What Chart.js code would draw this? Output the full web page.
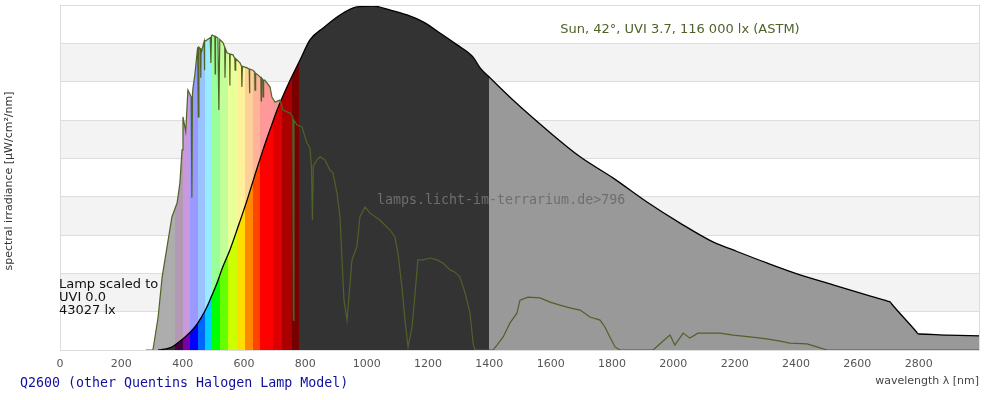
<!DOCTYPE html>
<html>
<head>
<meta charset="utf-8">
<script src="https://cdn.jsdelivr.net/npm/chart.js@4"></script>
<style>
html,body{margin:0;padding:0;background:#fff;}
#wrap{width:1000px;height:400px;position:relative;}
</style>
</head>
<body>
<div id="wrap"><canvas id="c" width="1000" height="400"></canvas></div>
<script>
// ---- data ----
const xTickLabels = [0, 200, 400, 600, 800, 1000, 1200, 1400, 1600, 1800, 2000, 2200, 2400, 2600, 2800];

const lampWl  = [320, 340, 360, 375, 390, 408, 425, 440, 460, 479, 495, 512, 530, 554, 580, 610, 635, 662, 685, 708, 740, 783, 815, 858, 913, 968, 1021, 1076, 1132, 1184, 1239, 1295, 1347, 1370, 1402, 1477, 1588, 1696, 1803, 1914, 2022, 2129, 2195, 2305, 2413, 2521, 2632, 2700, 2707, 2712, 2793, 2798, 2803, 2892, 3000];
const lampVal = [0, 0.02, 0.06, 0.13, 0.22, 0.34, 0.47, 0.60, 0.84, 1.12, 1.42, 1.75, 2.15, 2.61, 3.2, 3.91, 4.55, 5.22, 5.75, 6.26, 6.86, 7.57, 8.09, 8.40, 8.74, 8.95, 8.97, 8.87, 8.74, 8.56, 8.27, 7.96, 7.64, 7.36, 7.10, 6.52, 5.74, 5.04, 4.49, 3.86, 3.31, 2.82, 2.61, 2.27, 1.96, 1.70, 1.43, 1.27, 1.25, 1.20, 0.47, 0.42, 0.418, 0.39, 0.37];

const sunWl  = [280, 303, 320, 333, 349, 365, 382, 391, 398, 401, 410, 417, 428, 430, 432, 434, 440, 449, 451, 453, 458, 459, 460, 463, 470, 471, 472, 479, 490, 492, 494, 496, 505, 506, 507, 515, 518, 521, 532, 537, 538, 540, 545, 553, 554, 555, 564, 570, 571, 573, 587, 592, 593, 595, 610, 617, 618, 619, 629, 635, 636, 638, 646, 655, 656, 657, 661, 662, 664, 668, 685, 691, 701, 717, 727, 750, 759, 761, 763, 773, 789, 805, 815, 820, 823, 826, 838, 848, 864, 880, 890, 903, 913, 926, 936, 952, 968, 978, 995, 1011, 1043, 1076, 1092, 1102, 1115, 1125, 1135, 1148, 1158, 1167, 1184, 1207, 1229, 1249, 1272, 1288, 1304, 1321, 1337, 1347, 1353, 1412, 1425, 1445, 1467, 1490, 1500, 1526, 1565, 1598, 1630, 1663, 1696, 1728, 1761, 1777, 1793, 1810, 1826, 1934, 1963, 1989, 2005, 2032, 2054, 2080, 2110, 2152, 2195, 2250, 2305, 2348, 2380, 2436, 2468, 2501, 3000];
const sunVal = [0, 0, 0.86, 1.90, 2.69, 3.47, 3.84, 4.36, 5.22, 6.08, 5.7, 6.78, 6.6, 3.97, 6.7, 6.86, 7.2, 7.9, 6.08, 7.9, 7.85, 7.1, 7.85, 7.83, 8.05, 7.3, 8.05, 8.09, 8.15, 7.49, 8.2, 8.22, 8.18, 7.2, 8.18, 8.14, 6.26, 8.1, 8.01, 7.9, 7.10, 7.85, 7.75, 7.72, 6.9, 7.72, 7.70, 7.6, 7.30, 7.6, 7.49, 7.4, 6.86, 7.4, 7.36, 7.33, 6.7, 7.33, 7.30, 7.25, 6.78, 7.22, 7.17, 7.1, 6.5, 7.1, 7.06, 6.60, 7.04, 7.04, 6.86, 6.60, 6.47, 6.52, 6.26, 6.18, 6.08, 0.78, 6.0, 5.87, 5.82, 5.40, 5.27, 4.77, 3.39, 4.8, 4.96, 5.04, 4.96, 4.70, 4.62, 4.10, 3.47, 1.30, 0.78, 2.35, 2.69, 3.47, 3.73, 3.57, 3.39, 3.13, 2.95, 2.53, 1.64, 0.78, 0.08, 0.60, 1.49, 2.35, 2.35, 2.40, 2.35, 2.27, 2.09, 2.03, 1.90, 1.49, 0.96, 0.18, 0, 0, 0.13, 0.34, 0.70, 0.96, 1.30, 1.38, 1.36, 1.25, 1.17, 1.10, 1.04, 0.86, 0.78, 0.60, 0.34, 0.08, 0, 0, 0.21, 0.39, 0.13, 0.44, 0.31, 0.44, 0.44, 0.44, 0.39, 0.34, 0.29, 0.23, 0.18, 0.16, 0.08, 0, 0];

// colour stripes (style)
const stripeEdges  = [280, 375, 401, 424, 450, 473, 496, 522, 548, 577, 603, 629, 652, 695, 724, 757, 780, 1400, 3000];
const stripeColors = ['#333333', '#440044', '#7700aa', '#0000ff', '#0066ff', '#00ccff', '#00ff00', '#66ff00', '#ccff00', '#ffdd00', '#ff8800', '#ff4400', '#ff0000', '#dd0000', '#aa0000', '#770000', '#333333', '#999999'];

function pastel(hex) {
  const n = parseInt(hex.slice(1), 16);
  const r = (n >> 16) & 255, g = (n >> 8) & 255, b = n & 255;
  const m = v => Math.round(v * 0.4 + 255 * 0.6);
  return 'rgb(' + m(r) + ',' + m(g) + ',' + m(b) + ')';
}

function stripeGradient(chart, colors) {
  const area = chart.chartArea;
  if (!area) return colors[0];
  const xs = chart.scales.x;
  const w = area.right - area.left;
  const g = chart.ctx.createLinearGradient(area.left, 0, area.right, 0);
  const off = wl => Math.min(1, Math.max(0, (xs.getPixelForValue(wl) - area.left) / w));
  g.addColorStop(0, colors[0]);
  for (let i = 0; i < colors.length; i++) {
    g.addColorStop(off(stripeEdges[i]), colors[i]);
    g.addColorStop(off(stripeEdges[i + 1]), colors[i]);
  }
  return g;
}

const lampPts = lampWl.map((w, i) => ({x: w, y: lampVal[i]}));
const sunPts = sunWl.map((w, i) => ({x: w, y: sunVal[i]}));
const pastelColors = stripeColors.map(pastel);

const bandsPlugin = {
  id: 'bands',
  beforeDraw(chart) {
    const {ctx, chartArea: a, scales: {y}} = chart;
    ctx.save();
    ctx.fillStyle = '#fff';
    ctx.fillRect(0, 0, chart.width, chart.height);
    ctx.fillStyle = '#f3f3f3';
    for (let v = 1; v < 9; v += 2) {
      const t = y.getPixelForValue(v + 1), b = y.getPixelForValue(v);
      ctx.fillRect(a.left, t, a.right - a.left, b - t);
    }
    ctx.restore();
  },
  afterDraw(chart) {
    const {ctx, chartArea: a} = chart;
    ctx.save();
    ctx.strokeStyle = '#dddddd';
    ctx.lineWidth = 1;
    ctx.strokeRect(a.left + 0.5, a.top + 0.5, a.right - a.left - 1, a.bottom - a.top);
    ctx.textBaseline = 'middle';
    // sun label
    ctx.font = '13px "DejaVu Sans"';
    ctx.fillStyle = '#4f6228';
    ctx.textAlign = 'center';
    ctx.fillText('Sun, 42°, UVI 3.7, 116 000 lx (ASTM)', 680, 30);
    // watermark
    ctx.font = '13.3px "DejaVu Sans Mono"';
    ctx.fillStyle = '#6e6e6e';
    ctx.textAlign = 'left';
    ctx.fillText('lamps.licht-im-terrarium.de>796', 377, 201);
    // lamp scaled
    ctx.font = '13px "DejaVu Sans"';
    ctx.fillStyle = '#111';
    ctx.fillText('Lamp scaled to', 59, 285);
    ctx.fillText('UVI 0.0', 59, 298);
    ctx.fillText('43027 lx', 59, 311);
    // bottom caption
    ctx.font = '13.3px "DejaVu Sans Mono"';
    ctx.fillStyle = '#1010a0';
    ctx.fillText('Q2600 (other Quentins Halogen Lamp Model)', 20, 384);
    // x title
    ctx.font = '11px "DejaVu Sans"';
    ctx.fillStyle = '#444';
    ctx.textAlign = 'right';
    ctx.fillText('wavelength \u03bb [nm]', 979, 381);
    // y title
    ctx.translate(9, 181);
    ctx.rotate(-Math.PI / 2);
    ctx.textAlign = 'center';
    ctx.fillStyle = '#333';
    ctx.fillText('spectral irradiance [\u00b5W/cm\u00b2/nm]', 0, 0);
    ctx.restore();
  }
};

new Chart(document.getElementById('c'), {
  type: 'line',
  data: {
    datasets: [
      { // sun line (top)
        data: sunPts, borderColor: '#4f6228', borderWidth: 1.2, pointRadius: 0, fill: false, tension: 0
      },
      { // lamp
        data: lampPts, borderColor: '#000', borderWidth: 1.3, pointRadius: 0, cubicInterpolationMode: 'monotone', fill: 'origin',
        backgroundColor: ctx => stripeGradient(ctx.chart, stripeColors)
      },
      { // sun fill (bottom)
        data: sunPts, borderWidth: 0, borderColor: 'rgba(0,0,0,0)', pointRadius: 0, tension: 0, fill: 'origin',
        backgroundColor: ctx => stripeGradient(ctx.chart, pastelColors)
      }
    ]
  },
  options: {
    responsive: false,
    animation: false,
    devicePixelRatio: 1,
    layout: {padding: {top: 5, right: 20, left: 0, bottom: 0}},
    plugins: {legend: {display: false}, tooltip: {enabled: false}},
    scales: {
      x: {
        type: 'linear', min: 0, max: 3000,
        afterFit: s => { s.height = 50; },
        grid: {display: false, drawTicks: false},
        border: {display: false},
        ticks: {
          stepSize: 200, padding: 8, color: '#555', maxRotation: 0,
          font: {family: 'DejaVu Sans', size: 11},
          callback: v => xTickLabels.includes(v) ? String(v) : ''
        }
      },
      y: {
        min: 0, max: 9,
        afterFit: s => { s.width = 60; },
        grid: {color: '#dddddd', drawTicks: false},
        border: {display: false},
        ticks: {display: false, stepSize: 1}
      }
    }
  },
  plugins: [bandsPlugin]
});
</script>
</body>
</html>
